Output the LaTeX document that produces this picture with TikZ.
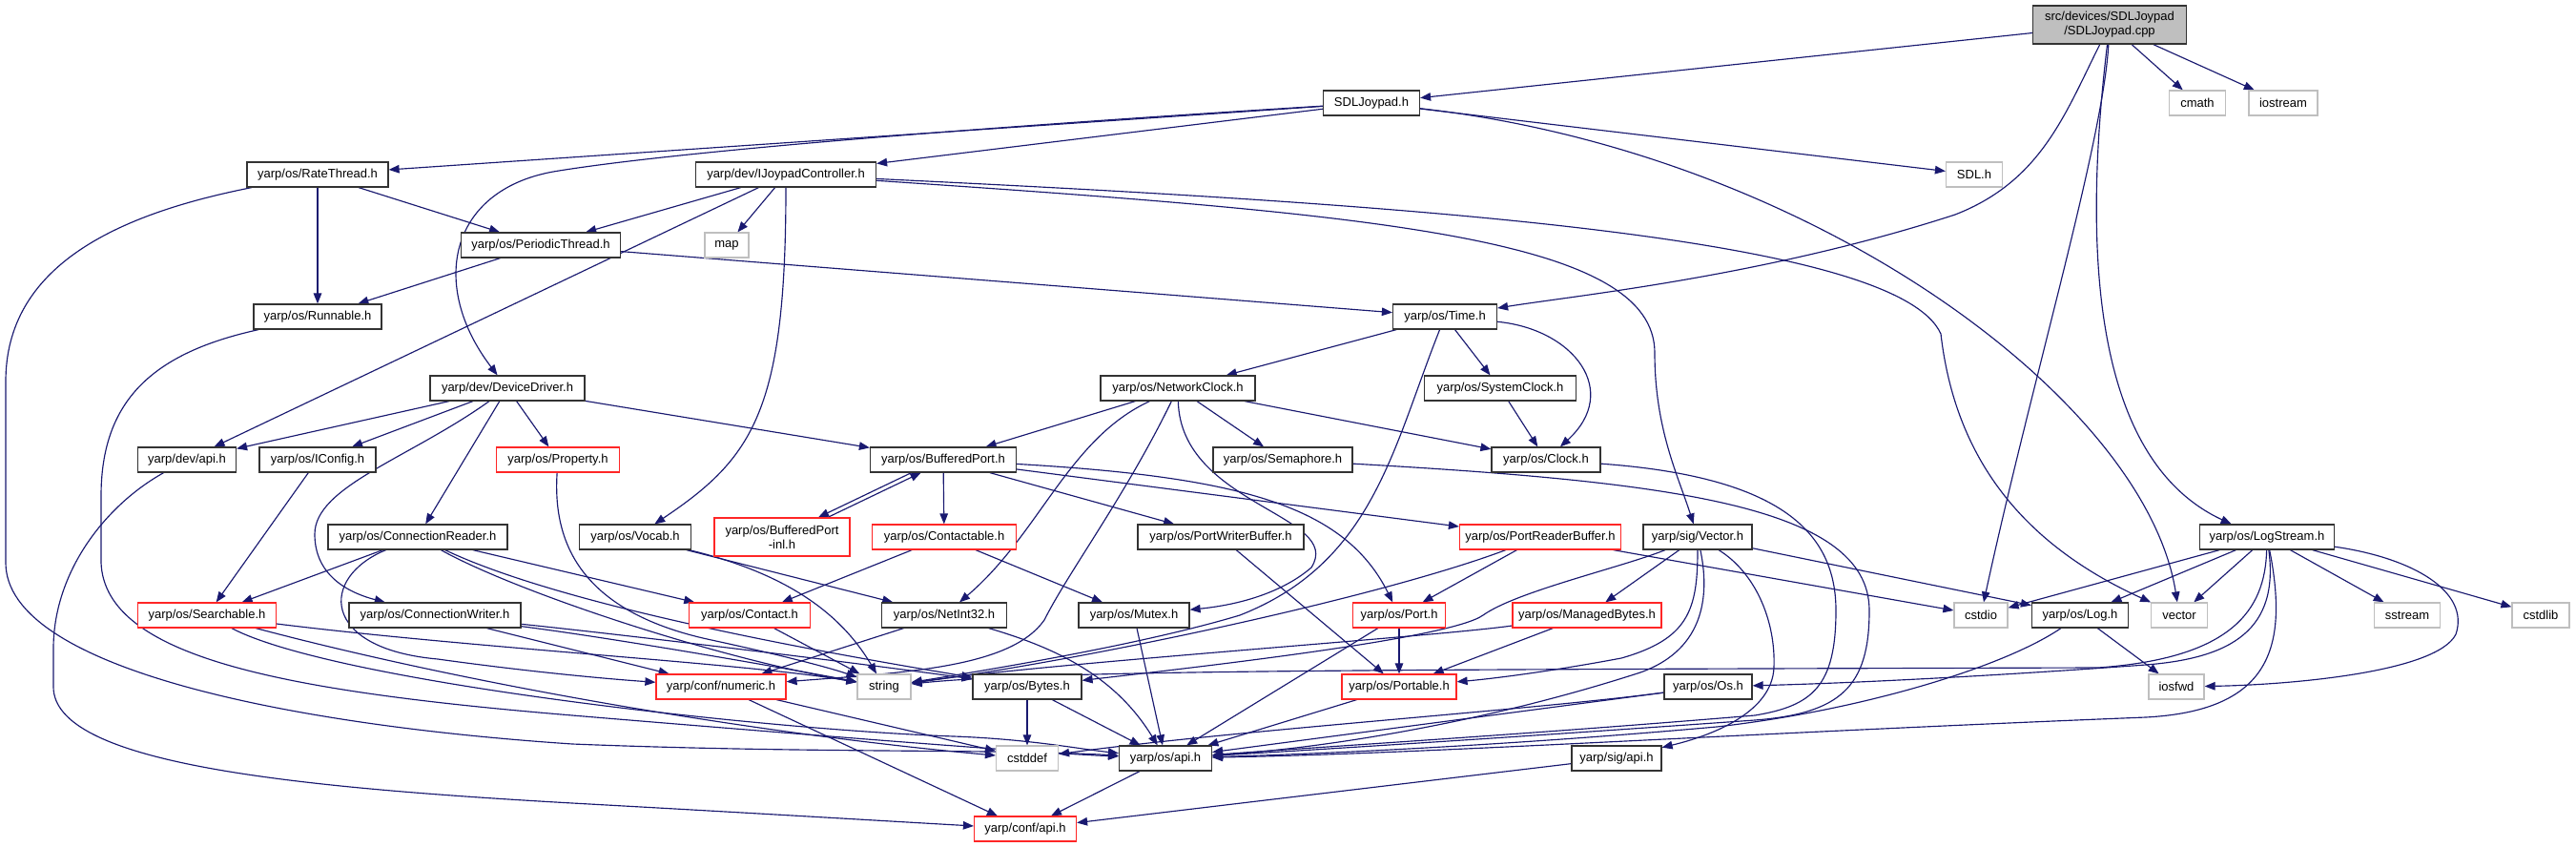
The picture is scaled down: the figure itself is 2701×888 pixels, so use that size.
\documentclass[tikz,border=0pt]{standalone}
\usepackage{fontspec}
\setmainfont{Liberation Sans}
\usetikzlibrary{arrows.meta}
\definecolor{edgeblue}{HTML}{191970}
\definecolor{greyb}{HTML}{BFBFBF}
\definecolor{redb}{HTML}{FF2626}
\pgfdeclarelayer{bg}
\pgfdeclarelayer{edges}
\pgfsetlayers{bg,edges,main}
\begin{document}
\begin{tikzpicture}[x=1pt,y=-1pt,
  box/.style={draw, line width=1.2pt, fill=white, inner sep=0pt, minimum height=26pt, font=\fontsize{13}{15}\selectfont, text=black},
  nb/.style={box, draw=black!80},
  nr/.style={box, draw=redb},
  ng/.style={box, draw=greyb},
  edg/.style={draw=edgeblue, line width=1.15pt, -{Triangle[length=11pt,width=8.5pt]}},
]
\useasboundingbox (0,0) rectangle (2701,888);
\begin{pgfonlayer}{bg}
\fill[white] (0,0) rectangle (2701,888);
\end{pgfonlayer}

% row 0
\node[box, draw=black!80, fill=greyb, minimum width=161pt, minimum height=40pt, align=center] (cpp) at (2212,26) {src/devices/SDLJoypad\\/SDLJoypad.cpp};
% row 1
\node[nb, minimum width=101pt] (sdlj) at (1438,108) {SDLJoypad.h};
\node[ng, minimum width=59pt] (cmath) at (2304,108) {cmath};
\node[ng, minimum width=72pt] (iostream) at (2394,108) {iostream};
% row 2
\node[nb, minimum width=148pt] (rate) at (333,183) {yarp/os/RateThread.h};
\node[nb, minimum width=189pt] (ijoy) at (824,183) {yarp/dev/IJoypadController.h};
\node[ng, minimum width=59pt] (sdlh) at (2070,183) {SDL.h};
% row 3
\node[nb, minimum width=167pt] (periodic) at (567,257) {yarp/os/PeriodicThread.h};
\node[ng, minimum width=46pt] (map) at (762,257) {map};
% row 4
\node[nb, minimum width=134pt] (runnable) at (333,332) {yarp/os/Runnable.h};
\node[nb, minimum width=109pt] (time) at (1515,332) {yarp/os/Time.h};
% row 5
\node[nb, minimum width=162pt] (devdrv) at (532,407) {yarp/dev/DeviceDriver.h};
\node[nb, minimum width=162pt] (netclock) at (1235,407) {yarp/os/NetworkClock.h};
\node[nb, minimum width=159pt] (sysclock) at (1573,407) {yarp/os/SystemClock.h};
% row 6
\node[nb, minimum width=103pt] (devapi) at (196,482) {yarp/dev/api.h};
\node[nb, minimum width=122pt] (iconfig) at (333,482) {yarp/os/IConfig.h};
\node[nr, minimum width=129pt] (property) at (585,482) {yarp/os/Property.h};
\node[nb, minimum width=153pt] (bport) at (989,482) {yarp/os/BufferedPort.h};
\node[nb, minimum width=146pt] (semaphore) at (1345,482) {yarp/os/Semaphore.h};
\node[nb, minimum width=114pt] (clock) at (1621,482) {yarp/os/Clock.h};
% row 7
\node[nb, minimum width=188pt] (connreader) at (438,563) {yarp/os/ConnectionReader.h};
\node[nb, minimum width=117pt] (vocab) at (666,563) {yarp/os/Vocab.h};
\node[nr, minimum width=142pt, minimum height=40pt, align=center] (inl) at (820,563) {yarp/os/BufferedPort\\-inl.h};
\node[nr, minimum width=151pt] (contactable) at (990,563) {yarp/os/Contactable.h};
\node[nb, minimum width=174pt] (pwbuf) at (1280,563) {yarp/os/PortWriterBuffer.h};
\node[nr, minimum width=169pt] (prbuf) at (1615,563) {yarp/os/PortReaderBuffer.h};
\node[nb, minimum width=114pt] (sigvec) at (1780,563) {yarp/sig/Vector.h};
\node[nb, minimum width=141pt] (logstream) at (2377,563) {yarp/os/LogStream.h};
% row 8
\node[nr, minimum width=145pt] (searchable) at (217,645) {yarp/os/Searchable.h};
\node[nb, minimum width=180pt] (connwriter) at (456,645) {yarp/os/ConnectionWriter.h};
\node[nr, minimum width=127pt] (contact) at (786,645) {yarp/os/Contact.h};
\node[nb, minimum width=131pt] (netint) at (990,645) {yarp/os/NetInt32.h};
\node[nb, minimum width=116pt] (mutex) at (1189,645) {yarp/os/Mutex.h};
\node[nr, minimum width=97pt] (port) at (1467,645) {yarp/os/Port.h};
\node[nr, minimum width=156pt] (managed) at (1664,645) {yarp/os/ManagedBytes.h};
\node[ng, minimum width=56pt] (cstdio) at (2077,645) {cstdio};
\node[nb, minimum width=101pt] (log) at (2181,645) {yarp/os/Log.h};
\node[ng, minimum width=59pt] (vector) at (2285,645) {vector};
\node[ng, minimum width=69pt] (sstream) at (2524,645) {sstream};
\node[ng, minimum width=60pt] (cstdlib) at (2664,645) {cstdlib};
% row 9
\node[nr, minimum width=136pt] (numeric) at (756,720) {yarp/conf/numeric.h};
\node[ng, minimum width=56pt] (string) at (927,720) {string};
\node[nb, minimum width=114pt] (bytes) at (1077,720) {yarp/os/Bytes.h};
\node[nr, minimum width=120pt] (portable) at (1467,720) {yarp/os/Portable.h};
\node[nb, minimum width=92pt] (os) at (1791,720) {yarp/os/Os.h};
\node[ng, minimum width=58pt] (iosfwd) at (2282,720) {iosfwd};
% row 10
\node[ng, minimum width=65pt] (cstddef) at (1077,795) {cstddef};
\node[nb, minimum width=97pt] (osapi) at (1222,795) {yarp/os/api.h};
\node[nb, minimum width=94pt] (sigapi) at (1695,795) {yarp/sig/api.h};
% row 11
\node[nr, minimum width=107pt] (confapi) at (1075,869) {yarp/conf/api.h};

\begin{pgfonlayer}{edges}
% cpp
\draw[edg] (cpp) -- (sdlj);
\draw[edg] (cpp) .. controls (2165,120) and (2140,190) .. (2050,225) .. controls (1850,290) and (1650,310) .. (time);
\draw[edg] (cpp) .. controls (2205,150) and (2130,400) .. (cstdio);
\draw[edg] (cpp) .. controls (2185,250) and (2190,480) .. (logstream.160);
\draw[edg] (cpp) -- (cmath);
\draw[edg] (cpp) -- (iostream);
% SDLJoypad.h
\draw[edg] (sdlj) -- (rate);
\draw[edg] (sdlj) .. controls (1000,135) and (700,160) .. (580,180) .. controls (470,200) and (450,300) .. (devdrv);
\draw[edg] (sdlj) -- (ijoy);
\draw[edg] (sdlj) -- (sdlh);
\draw[edg] (sdlj) .. controls (1900,160) and (2250,420) .. (vector);
% IJoypadController
\draw[edg] (ijoy) -- (periodic);
\draw[edg] (ijoy) -- (devapi);
\draw[edg] (ijoy) -- (map);
\draw[edg] (ijoy) .. controls (824,430) and (790,480) .. (vocab);
\draw[edg] (ijoy) .. controls (1450,225) and (1735,250) .. (1735,370) .. controls (1735,450) and (1760,500) .. (sigvec);
\draw[edg] (ijoy) .. controls (1500,215) and (1990,250) .. (2035,350) .. controls (2050,480) and (2120,570) .. (vector);
% RateThread
\draw[edg] (rate) -- (periodic);
\draw[edg] (rate) -- (runnable);
\draw[edg] (rate) .. controls (120,225) and (6,280) .. (6,400) -- (6,590) .. controls (6,700) and (300,760) .. (600,780) .. controls (850,790) and (1050,785) .. (osapi);
% PeriodicThread
\draw[edg] (periodic) -- (runnable);
\draw[edg] (periodic) -- (time);
% Runnable
\draw[edg] (runnable) .. controls (160,370) and (106,420) .. (106,520) -- (106,590) .. controls (110,690) and (300,725) .. (600,750) .. controls (900,775) and (1100,790) .. (osapi);
% Time
\draw[edg] (time) -- (netclock);
\draw[edg] (time) -- (sysclock);
\draw[edg] (time) .. controls (1650,345) and (1700,410) .. (clock);
\draw[edg] (time) .. controls (1460,470) and (1440,590) .. (1300,645) .. controls (1200,675) and (1050,700) .. (string);
% DeviceDriver
\draw[edg] (devdrv) -- (devapi);
\draw[edg] (devdrv) -- (iconfig);
\draw[edg] (devdrv) -- (property);
\draw[edg] (devdrv) -- (bport);
\draw[edg] (devdrv) -- (connreader);
\draw[edg] (devdrv) .. controls (430,480) and (330,510) .. (330,560) .. controls (330,600) and (360,620) .. (connwriter);
% NetworkClock
\draw[edg] (netclock) -- (bport);
\draw[edg] (netclock) .. controls (1120,460) and (1090,560) .. (netint);
\draw[edg] (netclock) .. controls (1180,520) and (1120,600) .. (1095,650) .. controls (1060,700) and (950,705) .. (numeric);
\draw[edg] (netclock) .. controls (1238,530) and (1410,540) .. (1375,595) .. controls (1340,625) and (1290,635) .. (mutex);
\draw[edg] (netclock) -- (semaphore);
\draw[edg] (netclock) -- (clock);
\draw[edg] (sysclock) -- (clock);
% dev/api
\draw[edg] (devapi) .. controls (110,530) and (56,600) .. (56,680) -- (56,720) .. controls (56,800) and (300,825) .. (600,842) .. controls (800,853) and (950,862) .. (confapi);
% IConfig, Property
\draw[edg] (iconfig) -- (searchable);
\draw[edg] (property) .. controls (580,560) and (600,640) .. (746,671) .. controls (820,687) and (870,700) .. (string);
% BufferedPort
\draw[edg, transform canvas={xshift=-5pt}] (bport) -- (inl);
\draw[edg, transform canvas={xshift=5pt}] (inl) -- (bport);
\draw[edg] (bport) -- (contactable);
\draw[edg] (bport) -- (pwbuf);
\draw[edg] (bport) -- (prbuf);
\draw[edg] (bport) .. controls (1300,500) and (1410,530) .. (port);
% Semaphore, Clock
\draw[edg] (semaphore) .. controls (1750,505) and (1960,530) .. (1960,640) .. controls (1960,720) and (1930,748) .. (1840,755) .. controls (1600,772) and (1400,785) .. (osapi);
\draw[edg] (clock) .. controls (1870,500) and (1925,560) .. (1925,640) .. controls (1925,720) and (1900,740) .. (1840,750) .. controls (1600,770) and (1400,782) .. (osapi);
% ConnectionReader
\draw[edg] (connreader) -- (searchable);
\draw[edg] (connreader) .. controls (335,605) and (335,680) .. (459,691) .. controls (560,705) and (640,712) .. (numeric);
\draw[edg] (connreader) .. controls (540,620) and (750,690) .. (string);
\draw[edg] (connreader) .. controls (600,640) and (900,690) .. (bytes);
\draw[edg] (connreader) -- (contact);
% Vocab
\draw[edg] (vocab) .. controls (820,600) and (880,640) .. (string);
\draw[edg] (vocab) -- (netint);
% Contactable
\draw[edg] (contactable) -- (contact);
\draw[edg] (contactable) -- (mutex);
% PortWriterBuffer / PortReaderBuffer
\draw[edg] (pwbuf) -- (portable);
\draw[edg] (prbuf) .. controls (1450,625) and (1150,690) .. (string);
\draw[edg] (prbuf) -- (port);
\draw[edg] (prbuf) -- (cstdio);
% sig/Vector
\draw[edg] (sigvec) -- (managed);
\draw[edg] (sigvec) .. controls (1780,640) and (1770,670) .. (1700,690) .. controls (1620,705) and (1560,712) .. (portable);
\draw[edg] (sigvec) .. controls (1792,620) and (1790,680) .. (1720,705) .. controls (1550,760) and (1380,785) .. (osapi);
\draw[edg] (sigvec) .. controls (1840,600) and (1862,650) .. (1860,700) .. controls (1858,745) and (1800,770) .. (sigapi);
\draw[edg] (sigvec) .. controls (1700,595) and (1590,620) .. (1555,645) .. controls (1520,670) and (1250,700) .. (bytes);
\draw[edg] (sigvec) -- (log);
% LogStream
\draw[edg] (logstream) -- (cstdio);
\draw[edg] (logstream) -- (log);
\draw[edg] (logstream) -- (vector);
\draw[edg] (logstream) -- (sstream);
\draw[edg] (logstream) -- (cstdlib);
\draw[edg] (logstream) .. controls (2530,585) and (2590,620) .. (2575,665) .. controls (2555,705) and (2400,718) .. (iosfwd);
\draw[edg] (logstream) .. controls (2375,640) and (2340,690) .. (2200,700) .. controls (1500,702) and (1100,702) .. (string);
\draw[edg] (logstream) .. controls (2390,660) and (2340,690) .. (2250,697) .. controls (2100,708) and (1950,716) .. (os);
\draw[edg] (logstream) .. controls (2400,680) and (2380,745) .. (2250,752) .. controls (1800,770) and (1500,790) .. (osapi);
% Log
\draw[edg] (log) -- (iosfwd);
\draw[edg] (log) .. controls (2100,700) and (1950,745) .. (1800,762) .. controls (1600,780) and (1400,790) .. (osapi);
% Searchable
\draw[edg] (searchable) .. controls (500,680) and (780,695) .. (string);
\draw[edg] (searchable) .. controls (500,720) and (800,770) .. (cstddef);
\draw[edg] (searchable) .. controls (350,715) and (800,765) .. (1000,772) .. controls (1080,775) and (1130,785) .. (osapi);
% ConnectionWriter
\draw[edg] (connwriter) -- (numeric);
\draw[edg] (connwriter) .. controls (650,670) and (820,700) .. (string);
\draw[edg] (connwriter) .. controls (650,665) and (900,695) .. (bytes);
% Contact
\draw[edg] (contact) -- (string);
% numeric
\draw[edg] (numeric) -- (confapi);
\draw[edg] (numeric) -- (cstddef);
% NetInt32
\draw[edg] (netint) -- (numeric);
\draw[edg] (netint) .. controls (1110,680) and (1170,710) .. (osapi);
% Mutex, Port, ManagedBytes
\draw[edg] (mutex) -- (osapi);
\draw[edg] (port) -- (portable);
\draw[edg] (port) -- (osapi);
\draw[edg] (managed) -- (portable);
\draw[edg] (managed) .. controls (1500,668) and (1100,695) .. (string);
% Bytes, Portable, Os
\draw[edg] (bytes) -- (cstddef);
\draw[edg] (bytes) -- (osapi);
\draw[edg] (portable) -- (osapi);
\draw[edg] (os) -- (osapi);
\draw[edg] (os) .. controls (1600,745) and (1300,765) .. (cstddef);
% api
\draw[edg] (sigapi) -- (confapi);
\draw[edg] (osapi) -- (confapi);
\end{pgfonlayer}
\end{tikzpicture}
\end{document}
